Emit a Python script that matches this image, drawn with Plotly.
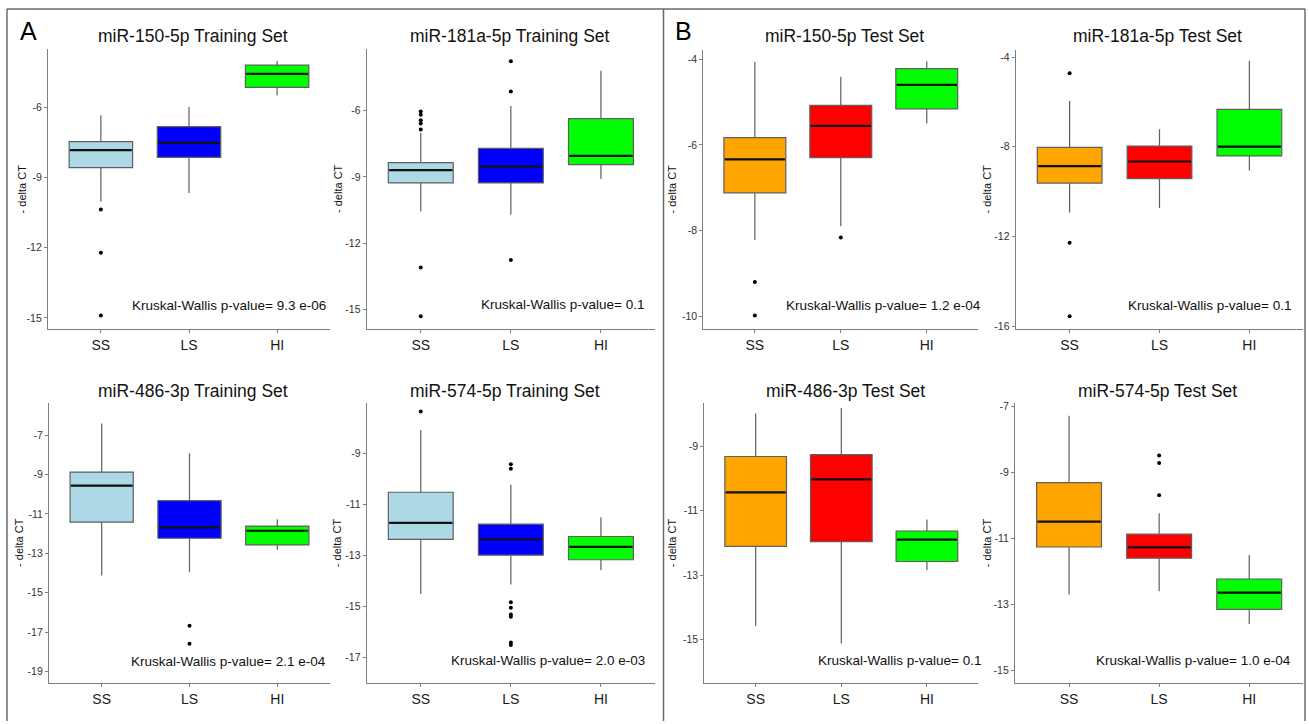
import plotly.graph_objects as go

W, H = 1309, 724

CATEGORIES = ["SS", "LS", "HI"]
TITLES = ["miR-150-5p Training Set", "miR-181a-5p Training Set", "miR-150-5p Test Set", "miR-181a-5p Test Set",
          "miR-486-3p Training Set", "miR-574-5p Training Set", "miR-486-3p Test Set", "miR-574-5p Test Set"]
PVALUES = ["9.3 e-06", "0.1", "1.2 e-04", "0.1", "2.1 e-04", "2.0 e-03", "0.1", "1.0 e-04"]
IS_TEST = [False, False, True, True, False, False, True, True]

TRAIN_COLORS = ["#ADD8E6", "#0000FF", "#00FF00"]
TEST_COLORS = ["#FFA500", "#FF0000", "#00FF00"]

UPPER = [[-6.34, -5.99, -4.03], [-7.0, -5.78, -4.19], [-4.07, -4.41, -4.05], [-5.96, -7.22, -4.16],
         [-6.41, -7.92, -11.27], [-8.1, -10.24, -11.51], [-7.97, -7.8, -11.27], [-7.27, -10.23, -11.49]]
Q3 = [[-7.47, -6.83, -4.2], [-8.35, -7.7, -6.36], [-5.83, -5.08, -4.22], [-8.03, -7.97, -6.33],
      [-8.88, -10.33, -11.62], [-10.53, -11.78, -12.26], [-9.31, -9.25, -11.63], [-9.3, -10.86, -12.22]]
MEDIAN = [[-7.83, -7.52, -4.58], [-8.69, -8.53, -8.04], [-6.34, -5.56, -4.6], [-8.87, -8.66, -8.0],
          [-9.57, -11.69, -11.86], [-11.73, -12.37, -12.67], [-10.43, -10.02, -11.9], [-10.48, -11.26, -12.63]]
Q1 = [[-8.58, -8.14, -5.15], [-9.27, -9.27, -8.44], [-7.12, -6.3, -5.16], [-9.62, -9.42, -8.41],
      [-11.42, -12.24, -12.58], [-12.37, -12.99, -13.17], [-12.11, -11.96, -12.58], [-11.25, -11.59, -13.14]]
LOWER = [[-10.04, -9.66, -5.49], [-10.56, -10.7, -9.09], [-8.22, -7.9, -5.5], [-10.94, -10.73, -9.06],
         [-14.13, -13.96, -12.82], [-14.51, -14.14, -13.58], [-14.59, -15.13, -12.85], [-12.69, -12.59, -13.58]]
OUTLIERS = [
    [[-10.37, -12.21, -14.9], [], []],
    [[-6.03, -6.18, -6.43, -6.58, -6.85, -13.1, -15.3], [-3.76, -5.13, -12.76], []],
    [[-9.2, -9.98], [-8.16], []],
    [[-4.72, -12.28, -15.56], [], []],
    [[], [-16.68, -17.59], []],
    [[-7.37], [-9.43, -9.61, -14.83, -15.05, -15.31, -15.4, -16.41, -16.5], []],
    [[], [], []],
    [[], [-8.48, -8.7, -9.68], []],
]
Y_RANGES = [[-15.46, -3.5], [-15.87, -3.19], [-10.29, -3.78], [-16.12, -3.67],
            [-19.6, -5.35], [-18.0, -7.02], [-16.37, -7.63], [-15.38, -6.87]]
Y_TICKS = [[-6, -9, -12, -15], [-6, -9, -12, -15], [-4, -6, -8, -10], [-4, -8, -12, -16],
           [-7, -9, -11, -13, -15, -17, -19], [-9, -11, -13, -15, -17], [-9, -11, -13, -15], [-7, -9, -11, -13, -15]]

# layout geometry (pixels)
PANEL_X = [(48, 330), (366.7, 655), (703.3, 978.3), (1015.7, 1303.3),
           (49, 330), (366.7, 655), (704.3, 978.3), (1015, 1303.3)]
PANEL_Y = [(47, 329), (47, 329), (48, 329), (48, 329),
           (403.3, 686), (403.3, 686), (403.3, 686), (403.3, 686)]
TITLE_POS = [(193, 34), (510, 34), (844.5, 34), (1157, 34),
             (193, 392), (505.3, 392), (845.7, 392), (1157, 392)]
YLABEL_X = [21.7, 337.3, 672.3, 987.3, 19, 337.3, 672.3, 987.3]
PV_POS = [(328.3, 305.7), (646, 305), (982.7, 305.7), (1293.3, 305.3),
          (328.3, 664), (646.7, 663.3), (982.7, 663.3), (1293.3, 662.7)]

FONT = "Liberation Sans, Arial, sans-serif"
BOX_WIDTH = 0.72
AX_COLOR = "#7f7f7f"

fig = go.Figure()
layout = dict(width=W, height=H, margin=dict(l=0, r=0, t=0, b=0),
              paper_bgcolor="white", plot_bgcolor="white", showlegend=False,
              font=dict(family=FONT, color="#000"))
annotations = []

for p in range(8):
    k = "" if p == 0 else str(p + 1)
    xr, yr = "x" + k, "y" + k
    colors = TEST_COLORS if IS_TEST[p] else TRAIN_COLORS
    for g in range(3):
        pos = g + 1
        fig.add_trace(go.Box(
            x=[pos], q1=[Q1[p][g]], median=[MEDIAN[p][g]], q3=[Q3[p][g]],
            lowerfence=[LOWER[p][g]], upperfence=[UPPER[p][g]],
            fillcolor=colors[g], line=dict(color="#5f5f5f", width=1.2),
            width=BOX_WIDTH, whiskerwidth=0, boxpoints=False,
            xaxis=xr, yaxis=yr, hoverinfo="skip"))
        fig.add_trace(go.Scatter(
            x=[pos - BOX_WIDTH / 2 + 0.01, pos + BOX_WIDTH / 2 - 0.01],
            y=[MEDIAN[p][g], MEDIAN[p][g]], mode="lines",
            line=dict(color="#111", width=2.2), xaxis=xr, yaxis=yr, hoverinfo="skip"))
        if OUTLIERS[p][g]:
            fig.add_trace(go.Scatter(
                x=[pos] * len(OUTLIERS[p][g]), y=OUTLIERS[p][g], mode="markers",
                marker=dict(color="#000", size=4), xaxis=xr, yaxis=yr, hoverinfo="skip"))

    x0, x1 = PANEL_X[p]
    y0, y1 = PANEL_Y[p]
    layout["xaxis" + k] = dict(
        domain=[x0 / W, x1 / W], anchor=yr, range=[0.4, 3.6],
        tickvals=[1, 2, 3], ticktext=CATEGORIES, showgrid=False, zeroline=False,
        showline=True, linecolor=AX_COLOR, linewidth=1.2, ticks="outside", ticklen=3,
        tickcolor=AX_COLOR, tickfont=dict(size=14, color="#1a1a1a", family=FONT), fixedrange=True)
    layout["yaxis" + k] = dict(
        domain=[1 - y1 / H, 1 - y0 / H], anchor=xr, range=Y_RANGES[p],
        tickvals=Y_TICKS[p], ticktext=[str(t) for t in Y_TICKS[p]], showgrid=False, zeroline=False,
        showline=True, linecolor=AX_COLOR, linewidth=1.2, ticks="outside", ticklen=3,
        tickcolor=AX_COLOR, tickfont=dict(size=10.5, color="#333", family=FONT), fixedrange=True)

    tx, ty = TITLE_POS[p]
    annotations.append(dict(text=TITLES[p], x=tx / W, y=1 - ty / H, xref="paper", yref="paper",
                            xanchor="center", yanchor="middle", showarrow=False,
                            font=dict(size=17.5, color="#111", family=FONT)))
    annotations.append(dict(text="- delta CT", x=YLABEL_X[p] / W, y=1 - ((y0 + y1) / 2) / H,
                            xref="paper", yref="paper", xanchor="center", yanchor="middle",
                            textangle=-90, showarrow=False, font=dict(size=11, color="#111", family=FONT)))
    px_, py_ = PV_POS[p]
    annotations.append(dict(text="Kruskal-Wallis p-value= " + PVALUES[p], x=px_ / W, y=1 - py_ / H,
                            xref="paper", yref="paper", xanchor="right", yanchor="middle",
                            showarrow=False, font=dict(size=13.5, color="#111", family=FONT)))

annotations.append(dict(text="A", x=28 / W, y=1 - 29 / H, xref="paper", yref="paper", xanchor="center",
                        yanchor="middle", showarrow=False, font=dict(size=25, color="#000", family=FONT)))
annotations.append(dict(text="B", x=683.5 / W, y=1 - 29 / H, xref="paper", yref="paper", xanchor="center",
                        yanchor="middle", showarrow=False, font=dict(size=25, color="#000", family=FONT)))
layout["annotations"] = annotations

BORDER = dict(color="#6a6a6a", width=1.5)
shapes = []
for (bx0, by0, bx1, by1) in [(7, 7, 7, H), (7, 7, 1305, 7), (663.5, 7, 663.5, H), (1305, 7, 1305, H)]:
    shapes.append(dict(type="line", xref="paper", yref="paper", x0=bx0 / W, x1=bx1 / W,
                       y0=1 - by0 / H, y1=1 - by1 / H, line=BORDER))
layout["shapes"] = shapes

fig.update_layout(**layout)
fig.write_html("out.html")
